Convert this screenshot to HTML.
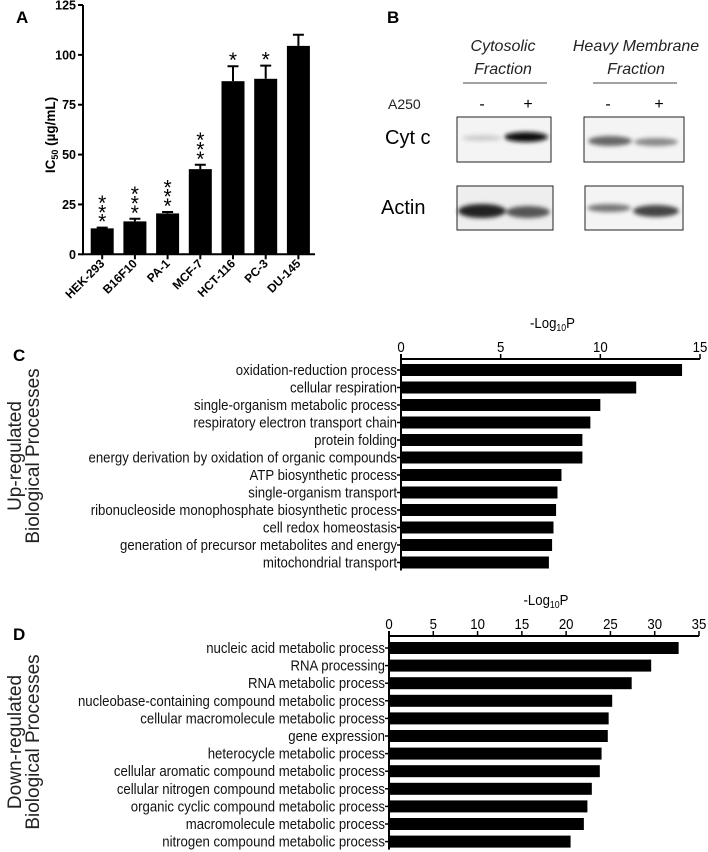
<!DOCTYPE html>
<html><head><meta charset="utf-8"><style>
html,body{margin:0;padding:0;background:#fff;}
svg{display:block;font-family:"Liberation Sans",Arial,sans-serif;}
</style></head><body>
<svg id="fig" width="708" height="852" viewBox="0 0 708 852" xmlns="http://www.w3.org/2000/svg">
<defs>
<filter id="blur" x="-20%" y="-100%" width="140%" height="300%"><feGaussianBlur stdDeviation="2.2"/></filter>
</defs>
<text x="16" y="23" font-size="17" font-weight="bold">A</text>
<text x="387" y="23" font-size="17" font-weight="bold">B</text>
<text x="13" y="361" font-size="17" font-weight="bold">C</text>
<text x="13" y="640" font-size="17" font-weight="bold">D</text>
<g id="panelA"></g>
<g id="panelB">
  <text x="503" y="51" font-size="16" font-style="italic" text-anchor="middle" fill="#222">Cytosolic</text>
  <text x="503" y="74" font-size="16" font-style="italic" text-anchor="middle" fill="#222">Fraction</text>
  <line x1="463" y1="83" x2="547" y2="83" stroke="#444" stroke-width="1"/>
  <text x="636" y="51" font-size="16" font-style="italic" text-anchor="middle" fill="#222">Heavy Membrane</text>
  <text x="636" y="74" font-size="16" font-style="italic" text-anchor="middle" fill="#222">Fraction</text>
  <line x1="593" y1="83" x2="677" y2="83" stroke="#444" stroke-width="1"/>
  <text x="388" y="109" font-size="14" fill="#222">A250</text>
  <text x="482" y="109" font-size="16" text-anchor="middle">-</text>
  <text x="528" y="109" font-size="16" text-anchor="middle">+</text>
  <text x="608" y="109" font-size="16" text-anchor="middle">-</text>
  <text x="659" y="109" font-size="16" text-anchor="middle">+</text>
  <text x="385" y="144" font-size="20">Cyt c</text>
  <text x="381" y="214" font-size="20">Actin</text>
  <rect x="457" y="117" width="94" height="45" fill="#f4f4f4" stroke="#222"/>
  <rect x="584" y="117" width="100" height="45" fill="#f4f4f4" stroke="#222"/>
  <rect x="457" y="186" width="96" height="44" fill="#eeeeee" stroke="#222"/>
  <rect x="585" y="186" width="98" height="44" fill="#f4f4f4" stroke="#222"/>
  <g filter="url(#blur)">
    <ellipse cx="482" cy="138" rx="20" ry="3" fill="#ccc"/>
    <ellipse cx="526" cy="137" rx="22" ry="5" fill="#111"/>
    <ellipse cx="610" cy="141" rx="22" ry="5" fill="#666"/>
    <ellipse cx="656" cy="142" rx="22" ry="4" fill="#888"/>
    <ellipse cx="482" cy="211" rx="24" ry="7" fill="#222"/>
    <ellipse cx="528" cy="212" rx="22" ry="6" fill="#555"/>
    <ellipse cx="609" cy="208" rx="22" ry="4" fill="#777"/>
    <ellipse cx="656" cy="211" rx="23" ry="6" fill="#444"/>
  </g>
</g>
<g id="panelC"></g>
<g id="panelD"></g>
</svg>
<script>
// ---- Panel A data ----
const aCategories = ["HEK-293","B16F10","PA-1","MCF-7","HCT-116","PC-3","DU-145"];
const aValues = [13, 16.5, 20.5, 42.7, 86.8, 88, 104.5];
const aErrors = [0.4, 1.3, 0.7, 2.2, 7.5, 6.6, 5.6];
const aStars = [3, 3, 3, 3, 1, 1, 0];
const aTicks = [0, 25, 50, 75, 100, 125];

// ---- Panel C data ----
const cCategories = ["oxidation-reduction process","cellular respiration","single-organism metabolic process","respiratory electron transport chain","protein folding","energy derivation by oxidation of organic compounds","ATP biosynthetic process","single-organism transport","ribonucleoside monophosphate biosynthetic process","cell redox homeostasis","generation of precursor metabolites and energy","mitochondrial transport"];
const cValues = [14.1, 11.8, 10.0, 9.5, 9.1, 9.1, 8.05, 7.85, 7.78, 7.65, 7.58, 7.42];
const cTicks = [0, 5, 10, 15];

// ---- Panel D data ----
const dCategories = ["nucleic acid metabolic process","RNA processing","RNA metabolic process","nucleobase-containing compound metabolic process","cellular macromolecule metabolic process","gene expression","heterocycle metabolic process","cellular aromatic compound metabolic process","cellular nitrogen compound metabolic process","organic cyclic compound metabolic process","macromolecule metabolic process","nitrogen compound metabolic process"];
const dValues = [32.7, 29.6, 27.4, 25.2, 24.8, 24.7, 24.0, 23.8, 22.9, 22.4, 22.0, 20.5];
const dTicks = [0, 5, 10, 15, 20, 25, 30, 35];

const NS = "http://www.w3.org/2000/svg";
function mk(parent, tag, attrs, text) {
  const el = document.createElementNS(NS, tag);
  for (const k in attrs) el.setAttribute(k, attrs[k]);
  if (text !== undefined) el.textContent = text;
  parent.appendChild(el);
  return el;
}

// ---- Panel A ----
(function(){
  const g = document.getElementById('panelA');
  const x0 = 83, y0 = 254.3, yTop = 5, vmax = 125;
  const yS = v => y0 - (v / vmax) * (y0 - yTop);
  const step = 32.7, bw = 23, first = 90.7;
  const xC = i => first + bw / 2 + i * step;
  let el = mk(g, 'line', {x1:x0, y1:yTop, x2:x0, y2:y0, stroke:'#000', 'stroke-width':2});
  
  
  el = mk(g, 'line', {x1:x0-1, y1:y0, x2:315, y2:y0, stroke:'#000', 'stroke-width':2});
  
  
  aTicks.forEach(t => {
    const y = yS(t);
    let tk = mk(g, 'line', {x1:x0-5, y1:y, x2:x0, y2:y, stroke:'#000', 'stroke-width':2});
    
    
    let tl = mk(g, 'text', {x:x0-7, y:y+4.5, 'font-size':12.5, 'font-weight':'bold', 'text-anchor':'end'}, String(t));
    
    
  });
  const yl = mk(g, 'text', {transform:'translate(55,135) rotate(-90)', 'font-size':13.5, 'font-weight':'bold', 'text-anchor':'middle'});
  
  
  mk(yl, 'tspan', {}, 'IC');
  mk(yl, 'tspan', {'font-size':9, dy:3}, '50');
  mk(yl, 'tspan', {dy:-3}, ' (µg/mL)');
  aCategories.forEach((c, i) => {
    const cx = xC(i), v = aValues[i], e = aErrors[i];
    let b = mk(g, 'rect', {x:cx-bw/2, y:yS(v), width:bw, height:y0-yS(v), fill:'#000'});
    
    
    let eb = mk(g, 'path', {d:`M${cx} ${yS(v)} V${yS(v+e)} M${cx-5.5} ${yS(v+e)} H${cx+5.5}`, stroke:'#000', 'stroke-width':2, fill:'none'});
    
    
    let tk = mk(g, 'line', {x1:cx, y1:y0, x2:cx, y2:y0+5, stroke:'#000', 'stroke-width':2});
    
    
    let lb = mk(g, 'text', {transform:`translate(${cx+3},${y0+10}) rotate(-45)`, 'font-size':12, 'font-weight':'bold', 'text-anchor':'end'}, c);
    
    
    const top = yS(v + e) - 8;
    for (let s = 0; s < aStars[i]; s++) {
      let st = mk(g, 'text', {x:cx, y:top - s*9.3 + 9, 'font-size':21, 'text-anchor':'middle'}, '*');
      
      
    }
  });
})();

// ---- Horizontal bar panels ----
function hbar(id, cats, vals, ticks, x0, x1, axisY, row0, rowStep, titleLines, titleCY) {
  const g = document.getElementById(id);
  const vmax = ticks[ticks.length-1];
  const xS = v => x0 + (v / vmax) * (x1 - x0);
  const bh = 12;
  const lastY = row0 + (cats.length - 1) * rowStep + bh/2 + 2;
  let el = mk(g, 'line', {x1:x0, y1:axisY, x2:x1, y2:axisY, stroke:'#000', 'stroke-width':2});
  
  
  el = mk(g, 'line', {x1:x0, y1:axisY-5, x2:x0, y2:lastY, stroke:'#000', 'stroke-width':2});
  
  
  ticks.forEach(t => {
    const x = xS(t);
    let tk = mk(g, 'line', {x1:x, y1:axisY-5, x2:x, y2:axisY, stroke:'#000', 'stroke-width':1.5});
    
    
    let tl = mk(g, 'text', {transform:`translate(${x},${axisY-7}) scale(0.88,1)`, 'font-size':15, 'text-anchor':'middle'}, String(t));
    
    
  });
  const at = mk(g, 'text', {transform:`translate(${(x0+x1)/2+2},${axisY-31}) scale(0.88,1)`, 'font-size':15, 'text-anchor':'middle'});
  
  
  mk(at, 'tspan', {}, '-Log');
  mk(at, 'tspan', {'font-size':10, dy:3}, '10');
  mk(at, 'tspan', {dy:-3}, 'P');
  cats.forEach((c, i) => {
    const cy = row0 + i * rowStep;
    let b = mk(g, 'rect', {x:x0, y:cy-bh/2, width:xS(vals[i])-x0, height:bh, fill:'#000'});
    
    
    let tk = mk(g, 'line', {x1:x0-4, y1:cy, x2:x0, y2:cy, stroke:'#000', 'stroke-width':1.5});
    
    
    let lb = mk(g, 'text', {transform:`translate(${x0-4},${cy+5}) scale(0.88,1)`, 'font-size':15, 'text-anchor':'end', fill:'#111'}, c);
    
    
  });
  titleLines.forEach((t, k) => {
    let tt = mk(g, 'text', {transform:`translate(${21 + k*18},${titleCY}) rotate(-90)`, 'font-size':19, 'text-anchor':'middle', fill:'#222'}, t);
    
    
  });
}
hbar('panelC', cCategories, cValues, cTicks, 401, 700, 359, 370, 17.5, ['Up-regulated','Biological Processes'], 456);
hbar('panelD', dCategories, dValues, dTicks, 389, 699, 636, 648, 17.6, ['Down-regulated','Biological Processes'], 742);
</script>
</body></html>
